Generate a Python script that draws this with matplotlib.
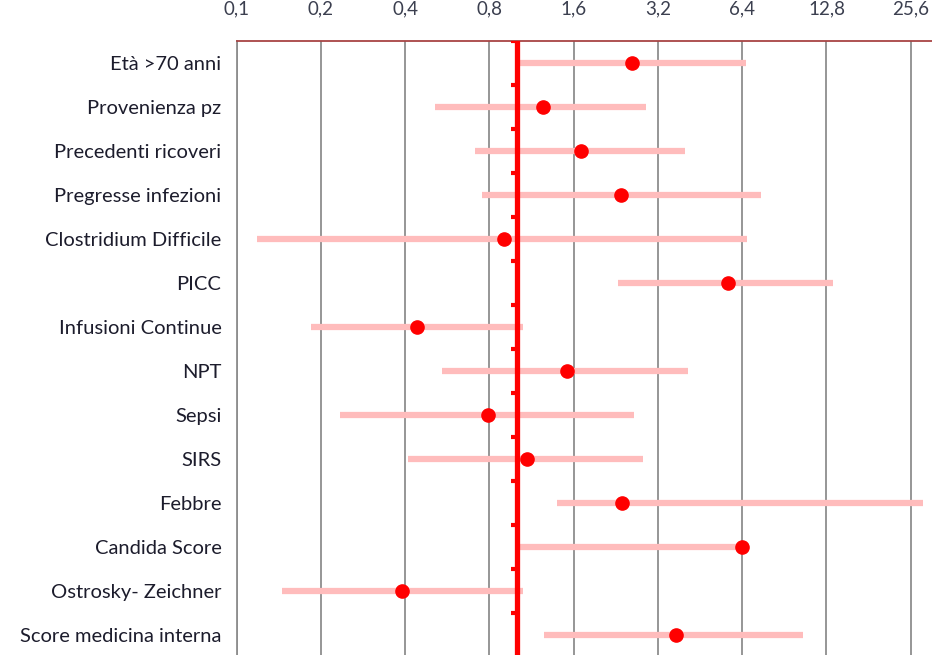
import numpy as np
import matplotlib
matplotlib.use('Agg')
import matplotlib.pyplot as plt

# Dati del forest plot (OR e intervalli di confidenza)
fattori = ['Età >70 anni', 'Provenienza pz', 'Precedenti ricoveri', 'Pregresse infezioni',
           'Clostridium Difficile', 'PICC', 'Infusioni Continue', 'NPT', 'Sepsi', 'SIRS',
           'Febbre', 'Candida Score', 'Ostrosky- Zeichner', 'Score medicina interna']
odds_ratio = [2.58, 1.24, 1.70, 2.37, 0.90, 5.68, 0.44, 1.52, 0.79, 1.09, 2.39, 6.37, 0.39, 3.70]
ic_inf = [1.03, 0.51, 0.71, 0.75, 0.118, 2.30, 0.184, 0.543, 0.233, 0.41, 1.39, 1.03, 0.145, 1.25]
ic_sup = [6.59, 2.90, 4.00, 7.47, 6.68, 13.5, 1.05, 4.11, 2.63, 2.82, 28.4, 6.40, 1.05, 10.58]
tick_valori = [0.1, 0.2, 0.4, 0.8, 1.6, 3.2, 6.4, 12.8, 25.6]

plt.rcParams['font.family'] = ['Lato', 'DejaVu Sans']

fig = plt.figure(figsize=(9.32, 6.55), dpi=100)
ax = fig.add_axes([236.7 / 932, 0, 1 - 236.7 / 932, 1 - 41 / 655])

y = np.arange(len(fattori)) + 0.5

# Intervalli di confidenza e punti
ax.hlines(y, ic_inf, ic_sup, color='#ffbcbc', lw=4.5, zorder=2)
ax.axvline(1, color='red', lw=3.8, zorder=3)
ax.hlines(np.arange(len(fattori)), 0.955, 1, color='red', lw=3, zorder=3)
ax.plot(odds_ratio, y, 'o', color='red', ms=9.5, mec='red', zorder=4)

ax.set_xscale('log', base=2)
ax.set_xlim(0.1, 30.5)
ax.set_ylim(13.95, 0)

ax.xaxis.tick_top()
ax.set_xticks(tick_valori)
ax.set_xticklabels([str(v).replace('.', ',') for v in tick_valori])
ax.xaxis.set_minor_locator(plt.NullLocator())
ax.tick_params(axis='x', length=0, pad=17, labelsize=13.5, labelcolor='#3b3f4f')

ax.set_yticks(y)
ax.set_yticklabels(fattori)
ax.tick_params(axis='y', length=0, pad=11, labelsize=14.5, labelcolor='#1c1c2c')

ax.grid(axis='x', color='#8e8e8e', lw=1.3, zorder=1)
ax.set_axisbelow(True)
for lato in ['right', 'bottom']:
    ax.spines[lato].set_visible(False)
ax.spines['left'].set_color('#8e8e8e')
ax.spines['left'].set_linewidth(1.3)
ax.spines['top'].set_color('#a84444')
ax.spines['top'].set_linewidth(1.3)

fig.savefig('out.png', dpi=100)
